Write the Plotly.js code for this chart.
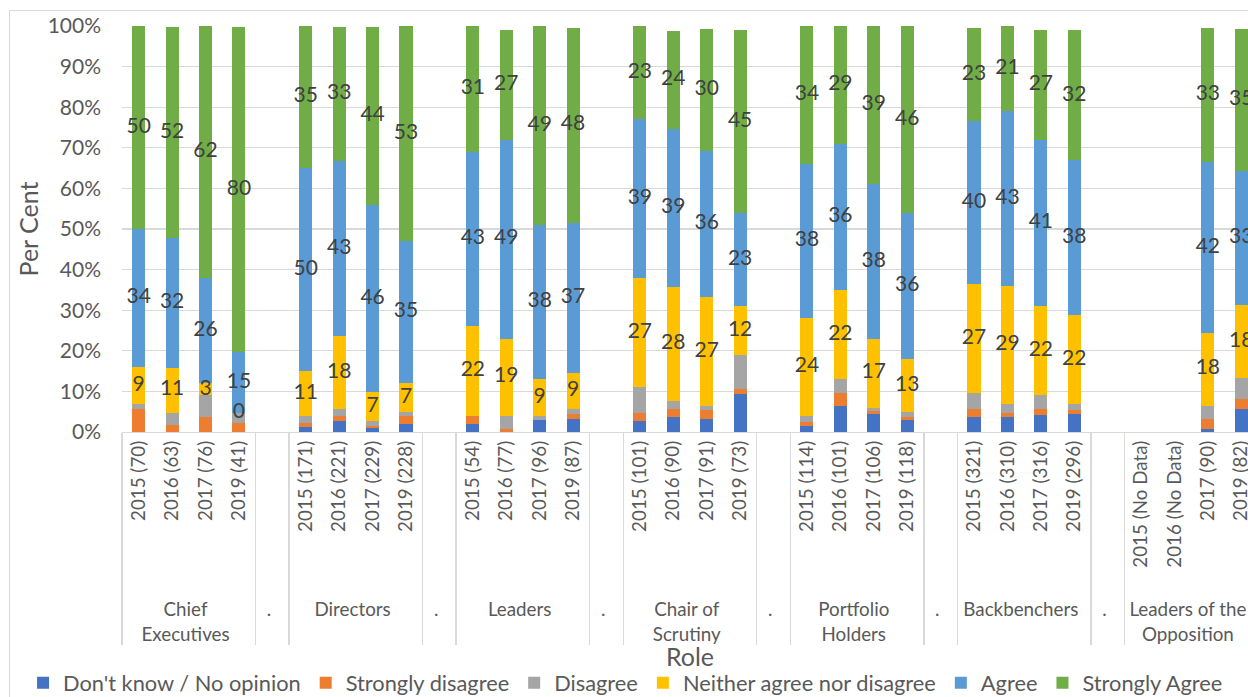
<!DOCTYPE html>
<html>
<head>
<meta charset="utf-8">
<script src="https://cdn.plot.ly/plotly-3.0.1.min.js"></script>
<style>
  html, body { margin: 0; padding: 0; overflow: hidden; background: #ffffff; width: 1248px; height: 697px; }
  #frame { position: absolute; left: 9px; top: 10px; width: 1400px; height: 800px;
           border-left: 1px solid #d9d9d9; border-top: 1px solid #d9d9d9; }
  #chart { position: absolute; left: 0; top: 0; width: 1290px; height: 697px; }
</style>
</head>
<body>
<div id="frame"></div>
<div id="chart"></div>
<script>
// Roles (outer category level) and survey year / sample size (inner level)
const roles = ["Chief<br>Executives", "Directors", "Leaders", "Chair of<br>Scrutiny",
               "Portfolio<br>Holders", "Backbenchers", "Leaders of the<br>Opposition"];
const years = [
  ["2015 (70)", "2016 (63)", "2017 (76)", "2019 (41)"],
  ["2015 (171)", "2016 (221)", "2017 (229)", "2019 (228)"],
  ["2015 (54)", "2016 (77)", "2017 (96)", "2019 (87)"],
  ["2015 (101)", "2016 (90)", "2017 (91)", "2019 (73)"],
  ["2015 (114)", "2016 (101)", "2017 (106)", "2019 (118)"],
  ["2015 (321)", "2016 (310)", "2017 (316)", "2019 (296)"],
  ["2015 (No Data)", "2016 (No Data)", "2017 (90)", "2019 (82)"]
];

// Responses, per cent of respondents, in role order (4 years per role)
const dontKnow = [0, 0, 0, 0,  1.2, 2.8, 1.1, 2,  2, 0, 2.9, 3.2,  2.8, 3.8, 3.2, 9.3,
                  1.4, 6.5, 4.5, 3,  3.6, 3.6, 4.1, 4.5,  null, null, 0.8, 5.7];
const stronglyDisagree = [5.6, 1.8, 3.6, 2.2,  1, 1.1, 0.5, 2,  2, 0.8, 0, 1.2,  1.9, 1.9, 2.1, 1.3,
                          1, 3, 0.7, 0.8,  2.1, 1, 1.6, 1,  null, null, 2.3, 2.5];
const disagree = [1.4, 3, 5.4, 2.5,  1.8, 1.8, 1.2, 1,  0, 3.2, 1.1, 1.2,  6.3, 2, 1, 8.4,
                  1.6, 3.5, 0.8, 1.2,  3.8, 2.4, 3.3, 1.4,  null, null, 3.4, 5.1];
const neither = [9, 11, 3, 0,  11, 18, 7, 7,  22, 19, 9, 9,  27, 28, 27, 12,
                 24, 22, 17, 13,  27, 29, 22, 22,  null, null, 18, 18];
const agree = [34, 32, 26, 15,  50, 43, 46, 35,  43, 49, 38, 37,  39, 39, 36, 23,
               38, 36, 38, 36,  40, 43, 41, 38,  null, null, 42, 33];
const stronglyAgree = [50, 52, 62, 80,  35, 33, 44, 53,  31, 27, 49, 48,  23, 24, 30, 45,
                       34, 29, 39, 46,  23, 21, 27, 32,  null, null, 33, 35];

const seriesNames = ["Don't know / No opinion", "Strongly disagree", "Disagree",
                     "Neither agree nor disagree", "Agree", "Strongly Agree"];
const seriesColors = ["#4472C4", "#ED7D31", "#A5A5A5", "#FFC000", "#5B9BD5", "#70AD47"];
const seriesValues = [dontKnow, stronglyDisagree, disagree, neither, agree, stronglyAgree];
const labelledSeries = [3, 4, 5];

const FONT = "Lato, 'Open Sans', sans-serif";
const GREY = "#595959";

// Two-level category axis; a "." spacer column sits between roles.
// The spacer's inner label is a run of no-break spaces, which keeps the
// role names a little further below the year labels.
const spacerLabel = "\u00a0".repeat(29);
const outer = [], inner = [];
roles.forEach((r, i) => {
  years[i].forEach(y => { outer.push(r); inner.push(y); });
  if (i < roles.length - 1) { outer.push("." + "\u200b".repeat(i)); inner.push(spacerLabel); }
});
function expand(vals) {
  const out = [];
  roles.forEach((r, i) => {
    for (let k = 0; k < 4; k++) out.push(vals[i * 4 + k]);
    if (i < roles.length - 1) out.push(null);
  });
  return out;
}

const traces = seriesValues.map((vals, s) => ({
  type: "bar",
  name: seriesNames[s],
  x: [outer, inner],
  y: expand(vals),
  marker: { color: seriesColors[s], line: { width: 0 } },
  hoverinfo: "skip"
}));

// Value labels centred on the upper three segments of each bar
const lx0 = [], lx1 = [], ly = [], lt = [];
const expanded = seriesValues.map(expand);
for (let j = 0; j < outer.length; j++) {
  let base = 0;
  for (let s = 0; s < expanded.length; s++) {
    const v = expanded[s][j];
    if (v === null) continue;
    if (labelledSeries.includes(s)) {
      lx0.push(outer[j]); lx1.push(inner[j]);
      ly.push(base + v / 2); lt.push(String(v));
    }
    base += v;
  }
}
traces.push({
  type: "scatter", mode: "text",
  x: [lx0, lx1], y: ly, text: lt,
  textposition: "middle center",
  textfont: { family: FONT, size: 21, color: "#404040" },
  showlegend: false, hoverinfo: "skip", cliponaxis: false
});

const layout = {
  width: 1290, height: 697,
  margin: { l: 122, r: 32, t: 26, b: 264.5, autoexpand: false },
  paper_bgcolor: "rgba(0,0,0,0)", plot_bgcolor: "rgba(0,0,0,0)",
  barmode: "stack", bargap: 0.61,
  hovermode: false,
  font: { family: FONT, color: GREY },
  xaxis: {
    type: "multicategory",
    automargin: false,
    range: [-0.5, 33.5],
    tickangle: -90,
    showdividers: true, dividercolor: "#d9d9d9", dividerwidth: 1.3,
    showline: true, linecolor: "#d9d9d9", linewidth: 1.3,
    showgrid: false, ticks: "",
    tickfont: { family: FONT, size: 18.8, color: GREY },
    title: { text: "Role", font: { family: FONT, size: 25, color: GREY }, standoff: 5 }
  },
  yaxis: {
    automargin: false,
    range: [0, 100], dtick: 10, ticksuffix: "%",
    showline: false, zeroline: false,
    gridcolor: "#d9d9d9", gridwidth: 1.3,
    ticks: "", ticklabelstandoff: 20,
    tickfont: { family: FONT, size: 21, color: GREY },
    title: { text: "Per Cent", font: { family: FONT, size: 25, color: GREY }, standoff: 1 }
  },
  showlegend: true,
  legend: {
    orientation: "h", traceorder: "normal",
    x: -0.0871, xanchor: "left", y: -0.6187, yanchor: "middle",
    font: { family: FONT, size: 21.8, color: GREY },
    bgcolor: "rgba(0,0,0,0)"
  }
};

Plotly.newPlot("chart", traces, layout, { displayModeBar: false, staticPlot: true });
</script>
</body>
</html>
